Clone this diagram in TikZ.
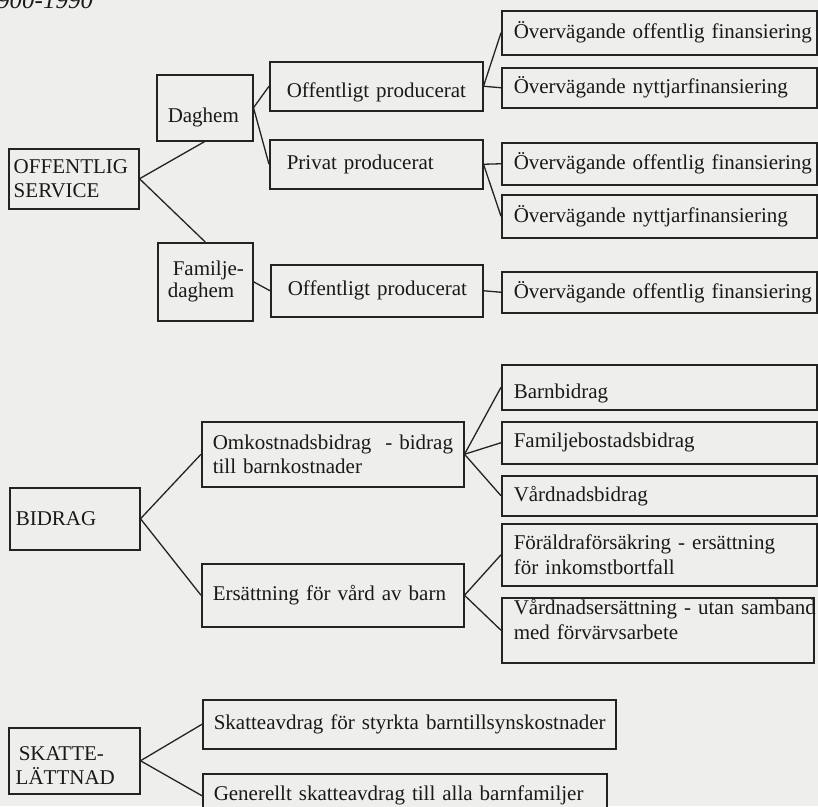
\documentclass[tikz,border=0pt]{standalone}
\usepackage{fontspec}
\setmainfont{Liberation Serif}
\definecolor{bg}{RGB}{238,238,236}
\definecolor{linecol}{RGB}{35,35,35}
\definecolor{txtcol}{RGB}{25,25,25}
\tikzset{
  box/.style={draw=linecol, line width=1.5pt, fill=bg, anchor=north west,
    inner sep=0pt, align=left, text=txtcol,
    font=\fontsize{21}{24.5}\selectfont},
  conn/.style={draw=linecol, line width=1.3pt},
}
\newcommand\bx[7]{%
  \node[box,
    minimum width=\the\dimexpr#4pt-#2pt\relax,
    minimum height=\the\dimexpr#5pt-#3pt\relax,
    text width=\the\dimexpr#4pt-#2pt\relax] (#1) at (#2,#3)
    {\leftskip=#6pt\rightskip=-20pt plus 1fil\relax #7\par};}
\begin{document}
\begin{tikzpicture}[x=1pt,y=-1pt]
\useasboundingbox (0,0) rectangle (818,806);
\clip (0,0) rectangle (818,806);
\fill[bg] (0,0) rectangle (818,806);
\node[font=\itshape\fontsize{25}{30}\selectfont, anchor=base west, inner sep=0pt, text=txtcol] (title) at (-3,8) {900-1990};
% OFFENTLIG SERVICE
\bx{os}{8}{148}{138}{208}{5}{OFFENTLIG\\SERVICE}
\bx{dag}{156}{74}{252}{140}{11}{\rule{0pt}{34pt}Daghem}
\bx{fam}{157}{242}{252}{320}{10}{\baselineskip=22pt\relax\hspace*{5pt}Familje-\\daghem}
\bx{opa}{269}{61}{482}{110}{17}{\rule{0pt}{27pt}Offentligt producerat}
\bx{pp}{269}{139}{482}{188}{17}{Privat producerat}
\bx{opb}{270}{264}{482}{316}{17}{Offentligt producerat}
\bx{fa}{501}{10}{816}{54}{12}{Övervägande offentlig finansiering}
\bx{fb}{501}{67}{816}{107}{12}{Övervägande nyttjarfinansiering}
\bx{fc}{501}{142}{816}{184}{12}{Övervägande offentlig finansiering}
\bx{fd}{501}{194}{816}{237}{12}{Övervägande nyttjarfinansiering}
\bx{fe}{501}{271}{816}{312}{12}{Övervägande offentlig finansiering}
% BIDRAG
\bx{bid}{9}{487}{139}{549}{6}{BIDRAG}
\bx{omk}{201}{421}{463}{486}{11}{Omkostnadsbidrag~ - bidrag\\till barnkostnader}
\bx{ers}{201}{563}{463}{626}{11}{Ersättning för vård av barn}
\bx{bb}{501}{364}{816}{409}{12}{\rule{0pt}{28pt}Barnbidrag}
\bx{fbb}{501}{421}{816}{463}{12}{Familjebostadsbidrag}
\bx{vb}{501}{475}{816}{515}{12}{Vårdnadsbidrag}
\bx{fo}{501}{523}{816}{585}{12}{Föräldraförsäkring - ersättning\\för inkomstbortfall}
\bx{ve}{501}{597}{813}{662}{12}{Vårdnadsersättning - utan samband\\med förvärvsarbete\rule[-22pt]{0pt}{22pt}}
% SKATTELÄTTNAD
\bx{sk}{8}{727}{139}{793}{7}{\rule{0pt}{24pt}\hspace*{3pt}SKATTE-\\LÄTTNAD}
\bx{sa}{202}{699}{615}{748}{11}{Skatteavdrag för styrkta barntillsynskostnader}
\bx{ge}{202}{773}{606}{817}{11}{Generellt skatteavdrag till alla barnfamiljer}
% connectors
\draw[conn] (os.east) -- (dag.south);
\draw[conn] (os.east) -- (fam.north);
\draw[conn] (dag.east) -- (opa.west);
\draw[conn] (dag.east) -- (pp.west);
\draw[conn] (opa.east) -- (fa.west);
\draw[conn] (opa.east) -- (fb.west);
\draw[conn] (pp.east) -- (fc.west);
\draw[conn] (pp.east) -- (fd.west);
\draw[conn] (fam.east) -- (opb.west);
\draw[conn] (opb.east) -- (fe.west);
\draw[conn] (bid.east) -- (omk.west);
\draw[conn] (bid.east) -- (ers.west);
\draw[conn] (omk.east) -- (bb.west);
\draw[conn] (omk.east) -- (fbb.west);
\draw[conn] (omk.east) -- (vb.west);
\draw[conn] (ers.east) -- (fo.west);
\draw[conn] (ers.east) -- (ve.west);
\draw[conn] (sk.east) -- (sa.west);
\draw[conn] (sk.east) -- (ge.west);
\end{tikzpicture}
\end{document}
